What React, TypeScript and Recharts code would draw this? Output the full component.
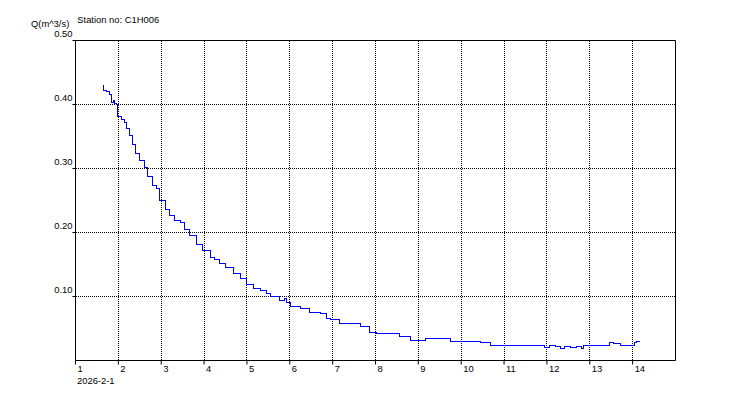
import React from "react";
import { LineChart, Line, XAxis, YAxis, CartesianGrid, ReferenceLine } from "recharts";

const days = [
  1.64, 1.66, 1.72, 1.79, 1.84, 1.88, 1.92, 1.96, 1.98, 1.99, 2.08, 2.15, 2.2, 2.27, 2.34, 2.41, 2.5, 2.62, 2.69, 2.8,
  2.9, 2.97, 3.09, 3.2, 3.32, 3.44, 3.55, 3.67, 3.83, 3.97, 4.14, 4.25, 4.37, 4.49, 4.68, 4.84, 5.0, 5.15, 5.31, 5.45,
  5.54, 5.77, 5.88, 5.92, 6.01, 6.24, 6.47, 6.71, 6.85, 6.94, 7.17, 7.52, 7.64, 7.87, 8.02, 8.34, 8.57, 8.81, 8.97, 9.16,
  9.51, 9.74, 9.98, 10.21, 10.44, 10.68, 10.91, 11.4, 11.84, 11.95, 12.05, 12.2, 12.31, 12.4, 12.55, 12.7, 12.8, 12.85, 13.01, 13.3,
  13.45, 13.55, 13.71, 13.99, 14.05, 14.09, 14.17,
];
const flows = [
  0.43, 0.422, 0.42, 0.415, 0.403, 0.406, 0.402, 0.4, 0.393, 0.381, 0.377, 0.372, 0.362, 0.352, 0.338, 0.324, 0.313, 0.302, 0.288, 0.274,
  0.269, 0.25, 0.236, 0.227, 0.219, 0.216, 0.204, 0.195, 0.182, 0.172, 0.161, 0.158, 0.152, 0.146, 0.136, 0.128, 0.118, 0.112, 0.109, 0.104,
  0.1, 0.094, 0.097, 0.09, 0.085, 0.081, 0.075, 0.073, 0.066, 0.064, 0.058, 0.058, 0.0525, 0.044, 0.042, 0.042, 0.038, 0.032, 0.032, 0.034,
  0.035, 0.029, 0.029, 0.03, 0.028, 0.024, 0.024, 0.024, 0.023, 0.021, 0.023, 0.022, 0.019, 0.022, 0.02, 0.022, 0.018, 0.023, 0.023, 0.023,
  0.028, 0.026, 0.024, 0.024, 0.028, 0.03, 0.03,
];
const xTicks = [1, 2, 3, 4, 5, 6, 7, 8, 9, 10, 11, 12, 13, 14];
const yTicks = [0.1, 0.2, 0.3, 0.4, 0.5];
const yTitle = "Q(m^3/s)";
const stationTitle = "Station no: C1H006";
const dateLabel = "2026-2-1";

const data = days.map((d, i) => ({ day: d, q: flows[i] }));

const FONT = "'Liberation Sans', Arial, sans-serif";
const FS = 9.4;

const YTick = (props: any) => {
  const { x, y, payload } = props;
  return (
    <text x={x} y={y - 7} dy="0.355em" textAnchor="end" fontFamily={FONT} fontSize={FS} fill="#000">
      {Number(payload.value).toFixed(2)}
    </text>
  );
};

const XTick = (props: any) => {
  const { x, y, payload } = props;
  return (
    <g>
      <text x={x + 2} y={y + 7.7} textAnchor="start" fontFamily={FONT} fontSize={FS} fill="#000">
        {payload.value}
      </text>
      {payload.value === 1 ? (
        <text x={x + 1.5} y={y + 19} textAnchor="start" fontFamily={FONT} fontSize={FS} fill="#000">
          {dateLabel}
        </text>
      ) : null}
    </g>
  );
};

const hLine = (p: any) => {
  const y = Math.floor(p.y1) + 0.5;
  return (
    <line
      key={p.key}
      x1={Math.round(p.x1)}
      x2={Math.round(p.x2)}
      y1={y}
      y2={y}
      stroke="#000"
      strokeWidth={1}
      strokeDasharray="1 1"
      shapeRendering="crispEdges"
    />
  );
};

const vLine = (p: any) => {
  const x = Math.floor(p.x1) + 0.5;
  return (
    <line
      key={p.key}
      x1={x}
      x2={x}
      y1={Math.round(p.y1)}
      y2={Math.round(p.y2)}
      stroke="#000"
      strokeWidth={1}
      strokeDasharray="1 1"
      shapeRendering="crispEdges"
    />
  );
};

export default function App() {
  return (
    <div style={{ position: "absolute", left: 0, top: 0, width: 750, height: 400, background: "#fff" }}>
      <LineChart
        width={750}
        height={400}
        data={data}
        margin={{ top: 40.5, right: 74.5, bottom: 9.5, left: 0 }}
      >
        <CartesianGrid horizontal={hLine} vertical={vLine} />
        <XAxis
          type="number"
          dataKey="day"
          domain={[1, 15]}
          ticks={xTicks}
          interval={0}
          height={30}
          tickSize={4}
          tickMargin={0}
          axisLine={{ stroke: "#000" }}
          tickLine={{ stroke: "#000" }}
          tick={<XTick />}
        />
        <YAxis
          type="number"
          domain={[0, 0.5]}
          ticks={yTicks}
          interval={0}
          width={75.5}
          tickSize={3}
          tickMargin={0}
          axisLine={{ stroke: "#000" }}
          tickLine={{ stroke: "#000" }}
          tick={<YTick />}
        />
        <ReferenceLine y={0.5} stroke="#000" />
        <ReferenceLine x={15} stroke="#000" />
        <Line
          type="stepAfter"
          dataKey="q"
          stroke="#0000ff"
          strokeWidth={1}
          dot={false}
          isAnimationActive={false}
          style={{ shapeRendering: "crispEdges" }}
        />
      </LineChart>
      <svg width={750} height={400} style={{ position: "absolute", left: 0, top: 0, pointerEvents: "none" }}>
        <text x={31} y={26.7} fontFamily={FONT} fontSize={FS} fill="#000">
          {yTitle}
        </text>
        <text x={77.3} y={23.4} fontFamily={FONT} fontSize={FS} fill="#000">
          {stationTitle}
        </text>
      </svg>
    </div>
  );
}
